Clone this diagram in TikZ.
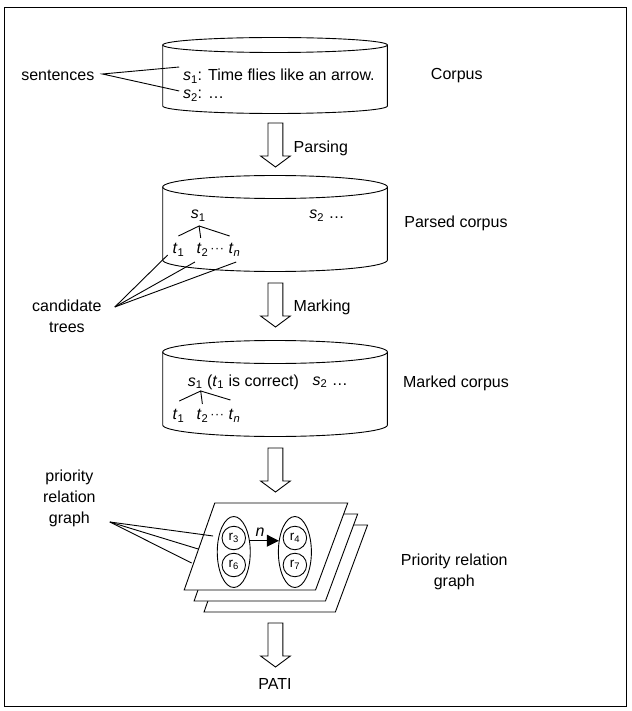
\documentclass[tikz,border=0pt]{standalone}
\usepackage{fontspec}
\setmainfont{Liberation Sans}
\usetikzlibrary{arrows.meta,shapes.geometric}

% hollow block arrow pointing down: centre x, top y, tip y
\newcommand\blockarrow[3]{%
  \draw[fill=white] (#1-9,#2) -- (#1+9,#2) -- (#1+9,#3-11) -- (#1+18,#3-11)
    -- (#1,#3) -- (#1-18,#3-11) -- (#1-9,#3-11) -- cycle;}
% drum (cylinder): left x, right x, top y, bottom y, vertical radius
\newcommand\drum[5]{%
  \draw ({(#1+#2)/2},#3) ellipse [x radius={(#2-#1)/2}, y radius=#5];
  \draw (#1,#3) -- (#1,#4) arc [start angle=180, end angle=0, x radius={(#2-#1)/2}, y radius=#5] -- (#2,#3);}

\begin{document}
\begin{tikzpicture}[x=0.826pt,y=-1pt,line width=0.9pt,
  every node/.style={inner sep=0pt,font=\fontsize{16}{21}\selectfont},
  lbl/.style={align=center},
  cdots/.style={font=\fontsize{12.5}{14}\selectfont},
  rule/.style={draw,circle,inner sep=0pt,minimum size=23.5pt,
    font=\fontsize{13.5}{16}\selectfont},
  group/.style={draw,ellipse,inner sep=0pt,minimum width=33pt,minimum height=71pt}]
\useasboundingbox (0,0) rectangle (764,711);
\draw[line width=1pt] (5.5,8) rectangle (759,706);

% ---- corpus
\drum{197}{469}{45}{106}{7.5}
\node[anchor=west] (s1a) at (221,76) {\textit{s}\textsubscript{1}: Time flies like an arrow.};
\node[anchor=west] (s2a) at (221,96) {\textit{s}\textsubscript{2}: …};
\node (sent) at (70,75) {sentences};
\coordinate (sentfork) at (124,74);
\coordinate (s1end) at (217,67);
\coordinate (s2end) at (217,91);
\draw (s1end) -- (sentfork) -- (s2end);
\node (corpus) at (553,76) {Corpus};

\blockarrow{333.5}{123}{167}
\node[anchor=west] (parsing) at (355,148) {Parsing};

% ---- parsed corpus
\drum{197}{469}{187}{260}{11.5}
\node (ps1) at (240,216) {\textit{s}\textsubscript{1}};
\node[anchor=west] (ps2) at (374,216) {\textit{s}\textsubscript{2} …};
\node (pt1) at (216,250) {\textit{t}\textsubscript{1}};
\node (pt2) at (245,250) {\textit{t}\textsubscript{2}};
\node[cdots] (pdots) at (263,250) {·\kern0.6pt·\kern0.6pt·};
\node (ptn) at (284,250) {\textit{t}\textsubscript{\textit{n}}};
\coordinate (papex) at (241,226);
\draw (216,236) -- (papex) -- (243,238);
\draw (papex) -- (278,236);
\node (parsed) at (552,223) {Parsed corpus};

\node[lbl] (cand) at (81,316) {candidate\\trees};
\coordinate (candfork) at (139,307);
\draw (candfork) -- (203,255);
\draw (candfork) -- (236,262);
\draw (candfork) -- (286,262);

\blockarrow{333.5}{283}{327}
\node[anchor=west] (marking) at (355,307) {Marking};

% ---- marked corpus
\drum{197}{469}{352}{425}{11.5}
\node[anchor=west] (ms1) at (227,382) {\textit{s}\textsubscript{1} (\textit{t}\textsubscript{1} is correct)};
\node[anchor=west] (ms2) at (378,382) {\textit{s}\textsubscript{2} …};
\node (mt1) at (216,416) {\textit{t}\textsubscript{1}};
\node (mt2) at (245,416) {\textit{t}\textsubscript{2}};
\node[cdots] (mdots) at (263,416) {·\kern0.6pt·\kern0.6pt·};
\node (mtn) at (284,416) {\textit{t}\textsubscript{\textit{n}}};
\coordinate (mapex) at (243,391);
\draw (217,401) -- (mapex) -- (245,404);
\draw (mapex) -- (279,400);
\node (marked) at (552,383) {Marked corpus};

\blockarrow{333.5}{448}{492}

% ---- priority relation graphs
\draw[fill=white] (284,525) -- (445,525) -- (406,612) -- (247,612) -- cycle;
\draw[fill=white] (272,514) -- (433,514) -- (394,601) -- (235,601) -- cycle;
\draw[fill=white] (260,503) -- (421,503) -- (382,590) -- (223,590) -- cycle;
\node[group] (grpA) at (283,552) {};
\node[group] (grpB) at (357,552) {};
\node[rule] (r3) at (283,538) {r\textsubscript{3}};
\node[rule] (r6) at (283,565) {r\textsubscript{6}};
\node[rule] (r4) at (357,538) {r\textsubscript{4}};
\node[rule] (r7) at (357,565) {r\textsubscript{7}};
\draw[-{Triangle[length=12pt,width=12pt]}] (grpA.35) -- (grpB.145)
  node[pos=0.35,above=4pt] (lbln) {\textit{n}};

\node[lbl] (prg) at (84,498) {priority\\relation\\graph};
\coordinate (prgfork) at (133,522);
\draw (prgfork) -- (258,536);
\draw (prgfork) -- (240,549);
\draw (prgfork) -- (232,563);
\node[lbl] (prglbl) at (550,572) {Priority relation\\graph};

\blockarrow{333.5}{623}{667}
\node (pati) at (333,684) {PATI};
\end{tikzpicture}
\end{document}
